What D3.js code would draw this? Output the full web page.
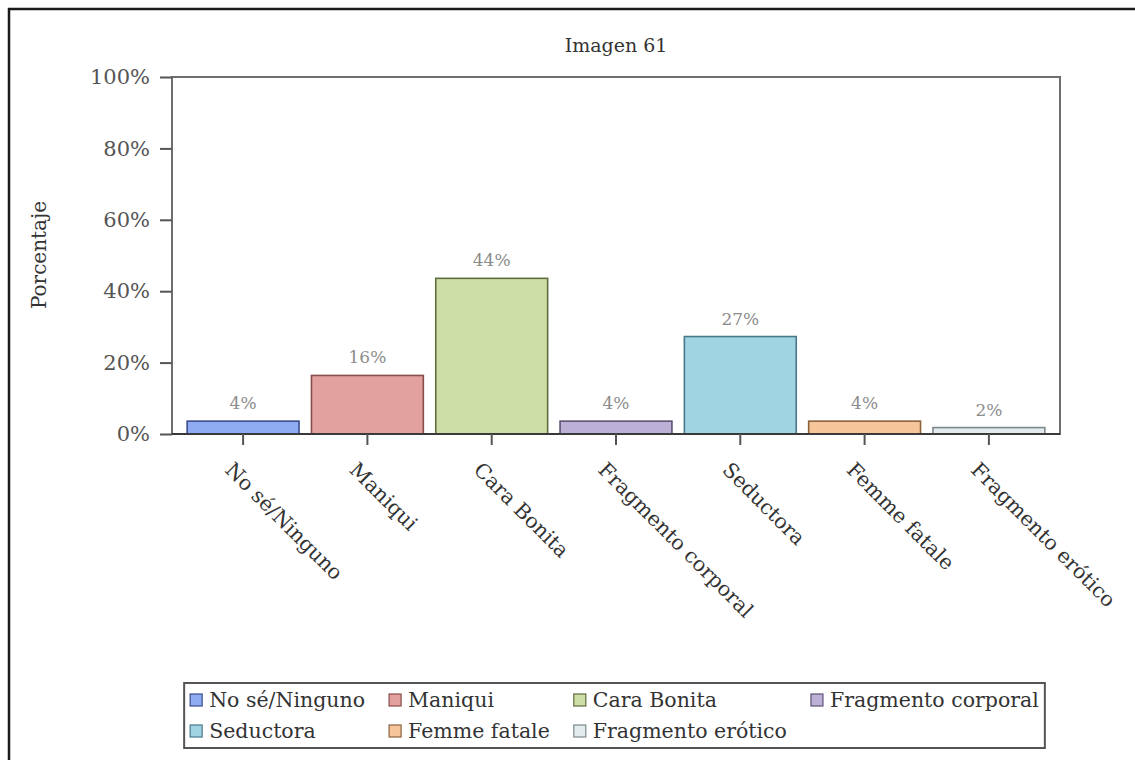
<!DOCTYPE html>
<html>
<head>
<meta charset="utf-8">
<script src="https://cdn.jsdelivr.net/npm/d3@7"></script>
<style>
  html, body { margin: 0; padding: 0; background: #fff; }
  svg { display: block; }
</style>
</head>
<body>
<svg id="chart" width="1135" height="760" font-family='"DejaVu Serif", "Liberation Serif", serif'></svg>
<script>
// ---- data ----
const categories = ["No sé/Ninguno", "Maniqui", "Cara Bonita", "Fragmento corporal", "Seductora", "Femme fatale", "Fragmento erótico"];
const values = [3.6, 16.4, 43.6, 3.6, 27.3, 3.6, 1.8];
const valueLabels = ["4%", "16%", "44%", "4%", "27%", "4%", "2%"];
const yTicks = [0, 20, 40, 60, 80, 100];
const yTickLabels = ["0%", "20%", "40%", "60%", "80%", "100%"];
const fills = ["#8fabf1", "#e3a19d", "#cddea6", "#bdb0d6", "#a1d4e3", "#f6c69a", "#e4ebee"];
const strokes = ["#3a4c8c", "#884c49", "#5e6c3e", "#5c5272", "#47798a", "#8c623b", "#7d898d"];
const title = "Imagen 61";
const yTitle = "Porcentaje";

// ---- layout ----
const FONT = '"DejaVu Serif", "Liberation Serif", serif';
const svg = d3.select("#chart");
const plot = { left: 172, top: 77, right: 1060, bottom: 434 };

// outer frame (top and left edges)
svg.append("line").attr("x1", 8).attr("y1", 9).attr("x2", 1135).attr("y2", 9)
  .attr("stroke", "#1a1a1a").attr("stroke-width", 2.5);
svg.append("line").attr("x1", 9).attr("y1", 8).attr("x2", 9).attr("y2", 760)
  .attr("stroke", "#1a1a1a").attr("stroke-width", 2.5);

const x = d3.scaleBand().domain(categories)
  .range([plot.left, plot.right]).paddingInner(0.1).paddingOuter(0.122);
const y = d3.scaleLinear().domain([0, 100]).range([plot.bottom, plot.top]);

// title
svg.append("text").attr("x", (plot.left + plot.right) / 2).attr("y", 52)
  .attr("text-anchor", "middle").attr("font-size", 19).attr("fill", "#333")
  .attr("font-family", FONT).text(title);

// y title
svg.append("text").attr("transform", `translate(46,255) rotate(-90)`)
  .attr("text-anchor", "middle").attr("font-size", 20).attr("fill", "#333")
  .attr("font-family", FONT).text(yTitle);

// bars
svg.append("g").selectAll("rect").data(categories).join("rect")
  .attr("x", d => x(d))
  .attr("y", (d, i) => y(values[i]))
  .attr("width", x.bandwidth())
  .attr("height", (d, i) => y(0) - y(values[i]))
  .attr("fill", (d, i) => fills[i])
  .attr("stroke", (d, i) => strokes[i])
  .attr("stroke-width", 1.6);

// value labels
svg.append("g").selectAll("text").data(categories).join("text")
  .attr("x", d => x(d) + x.bandwidth() / 2)
  .attr("y", (d, i) => y(values[i]) - 12)
  .attr("text-anchor", "middle").attr("font-size", 17).attr("fill", "#8c8c8c")
  .attr("font-family", FONT)
  .text((d, i) => valueLabels[i]);

// plot frame
svg.append("rect").attr("x", plot.left).attr("y", plot.top)
  .attr("width", plot.right - plot.left).attr("height", plot.bottom - plot.top)
  .attr("fill", "none").attr("stroke", "#6e6e6e").attr("stroke-width", 2);
svg.append("line").attr("x1", plot.left).attr("x2", plot.right)
  .attr("y1", plot.bottom).attr("y2", plot.bottom)
  .attr("stroke", "#3a3a3a").attr("stroke-width", 2);

// y axis
const yAxis = d3.axisLeft(y).tickValues(yTicks)
  .tickFormat((d, i) => yTickLabels[i]).tickSize(12).tickPadding(10);
const gy = svg.append("g").attr("transform", `translate(${plot.left},0)`).call(yAxis);
gy.attr("font-family", FONT);
gy.select(".domain").remove();
gy.selectAll(".tick line").attr("stroke", "#555").attr("stroke-width", 2);
gy.selectAll(".tick text").attr("font-size", 21).attr("fill", "#555")
  .attr("font-family", FONT);

// x axis
const xAxis = d3.axisBottom(x).tickSize(11).tickFormat("");
const gx = svg.append("g").attr("transform", `translate(0,${plot.bottom})`).call(xAxis);
gx.select(".domain").remove();
gx.selectAll(".tick line").attr("stroke", "#555").attr("stroke-width", 2);

// x labels rotated
svg.append("g").selectAll("text").data(categories).join("text")
  .attr("transform", d => `translate(${x(d) + x.bandwidth() / 2 - 14},466) rotate(45)`)
  .attr("dy", "0.35em")
  .attr("text-anchor", "start").attr("font-size", 20.5).attr("fill", "#333")
  .attr("font-family", FONT)
  .text(d => d);

// legend
const legFont = 20.5, sw = 12, swGap = 7, colGap = 24, rowH = 31;
const nCols = 4;
const lg = svg.append("g").attr("font-family", FONT);
const items = categories.map((c, i) => ({ c, i, col: i % nCols, row: Math.floor(i / nCols) }));
// measure text widths
const meas = lg.append("g").attr("opacity", 0);
const widths = categories.map(c => {
  const t = meas.append("text").attr("font-size", legFont).attr("font-family", FONT).text(c);
  return t.node().getComputedTextLength();
});
meas.remove();
const colW = d3.range(nCols).map(col =>
  d3.max(items.filter(d => d.col === col), d => widths[d.i]));
const colX = [];
let acc = 0;
colW.forEach((w, k) => { colX.push(acc); acc += sw + swGap + w + (k < nCols - 1 ? colGap : 0); });
const innerW = acc;
const boxPad = 6;
const boxW = innerW + boxPad * 2;
const boxX = (plot.left + plot.right) / 2 - 1.5 - boxW / 2;
const boxY = 683, boxH = 65;
lg.append("rect").attr("x", boxX).attr("y", boxY).attr("width", boxW).attr("height", boxH)
  .attr("fill", "#fff").attr("stroke", "#555").attr("stroke-width", 2);
const li = lg.selectAll("g.item").data(items).join("g")
  .attr("class", "item")
  .attr("transform", d => `translate(${boxX + boxPad + colX[d.col]},${boxY + 17 + d.row * rowH})`);
li.append("rect").attr("x", 0).attr("y", -sw / 2).attr("width", sw).attr("height", sw)
  .attr("fill", d => fills[d.i]).attr("stroke", d => strokes[d.i]).attr("stroke-width", 1.2);
li.append("text").attr("x", sw + swGap).attr("dy", "0.35em")
  .attr("font-size", legFont).attr("fill", "#333").attr("font-family", FONT)
  .text(d => d.c);
</script>
</body>
</html>
